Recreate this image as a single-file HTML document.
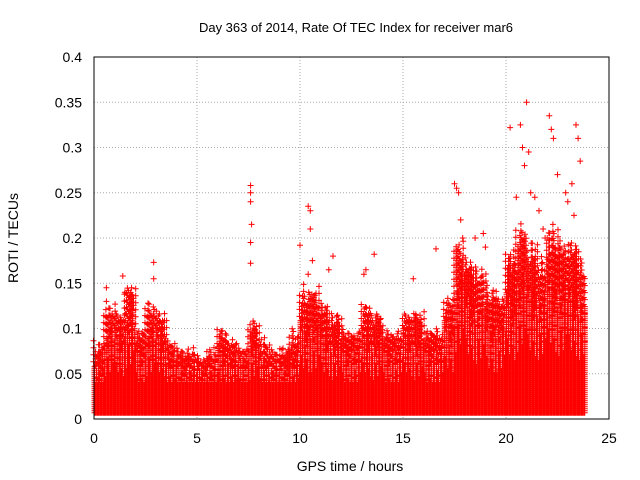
<!DOCTYPE html>
<html><head><meta charset="utf-8"><style>
body{margin:0;background:#fff}
svg{display:block;font-family:"Liberation Sans",sans-serif}
</style></head><body>
<svg id="chart" width="640" height="480" viewBox="0 0 640 480">
<rect width="640" height="480" fill="#fff"/>
<text x="356" y="32" font-size="13" text-anchor="middle" fill="#000">Day 363 of 2014, Rate Of TEC Index for receiver mar6</text>
<text transform="translate(18,238) rotate(-90)" font-size="14" text-anchor="middle">ROTI / TECUs</text>
<text x="350" y="471" font-size="14" text-anchor="middle">GPS time / hours</text>
<g id="grid"></g>
<g id="ticks"></g>
<g id="marks"></g>
<rect x="94" y="57" width="515" height="362" fill="none" stroke="#000" stroke-width="1"/>
</svg>
<script>
const xTicks=[0,5,10,15,20,25];
const yTicks=[0,0.05,0.1,0.15,0.2,0.25,0.3,0.35,0.4];
const yTickLabels=["0","0.05","0.1","0.15","0.2","0.25","0.3","0.35","0.4"];
// per 0.5 h bin (hours 0..24): dense level and sparse upper level
const binStart=[0,0.5,1,1.5,2,2.5,3,3.5,4,4.5,5,5.5,6,6.5,7,7.5,8,8.5,9,9.5,10,10.5,11,11.5,12,12.5,13,13.5,14,14.5,15,15.5,16,16.5,17,17.5,18,18.5,19,19.5,20,20.5,21,21.5,22,22.5,23,23.5];
const binLevel=[0.06,0.1,0.1,0.12,0.08,0.1,0.1,0.07,0.06,0.06,0.06,0.06,0.08,0.07,0.07,0.09,0.07,0.06,0.06,0.07,0.11,0.11,0.1,0.09,0.08,0.08,0.1,0.09,0.08,0.08,0.1,0.09,0.08,0.08,0.11,0.16,0.14,0.13,0.11,0.11,0.14,0.16,0.15,0.14,0.16,0.15,0.15,0.14];
const binUpper=[0.09,0.13,0.12,0.15,0.1,0.13,0.12,0.09,0.08,0.08,0.07,0.08,0.1,0.09,0.08,0.11,0.09,0.08,0.08,0.1,0.15,0.15,0.13,0.12,0.1,0.1,0.13,0.12,0.1,0.1,0.12,0.12,0.1,0.1,0.14,0.2,0.18,0.17,0.15,0.14,0.19,0.22,0.2,0.18,0.22,0.2,0.2,0.18];
// isolated high points [hours, ROTI]
const peakT=[0.6,0.6,1.4,1.5,2.9,2.9,7.6,7.6,7.6,7.65,7.6,7.6,10.0,10.4,10.5,10.5,10.6,10.4,11.4,11.6,13.2,13.1,13.6,15.5,16.6,17.5,17.6,17.7,17.8,17.9,18.5,18.9,19.0,20.2,20.5,20.7,20.8,20.9,21.0,21.1,21.2,21.4,21.6,21.8,21.9,22.0,22.1,22.2,22.3,22.5,22.9,23.0,23.2,23.3,23.4,23.5,23.6];
const peakV=[0.145,0.13,0.158,0.14,0.173,0.155,0.258,0.25,0.24,0.215,0.195,0.172,0.192,0.235,0.23,0.21,0.175,0.16,0.165,0.18,0.165,0.16,0.182,0.155,0.188,0.26,0.255,0.25,0.22,0.2,0.2,0.205,0.19,0.322,0.245,0.325,0.30,0.28,0.35,0.295,0.25,0.245,0.23,0.21,0.2,0.2,0.335,0.32,0.31,0.27,0.25,0.24,0.26,0.225,0.325,0.31,0.285];
const X=h=>94+h*20.6, Y=v=>419-v*905;
const ns="http://www.w3.org/2000/svg";
const grid=document.getElementById('grid'), ticks=document.getElementById('ticks'), marks=document.getElementById('marks');
xTicks.forEach(t=>{
  const l=document.createElementNS(ns,'line');
  
  
  l.setAttribute('x1',X(t));l.setAttribute('x2',X(t));l.setAttribute('y1',57);l.setAttribute('y2',419);
  l.setAttribute('stroke','#aaa');l.setAttribute('stroke-dasharray','1,2');grid.appendChild(l);
  const tx=document.createElementNS(ns,'text');
  
  
  tx.setAttribute('x',X(t));tx.setAttribute('y',443);tx.setAttribute('font-size','14');tx.setAttribute('text-anchor','middle');
  tx.textContent=t;ticks.appendChild(tx);
});
yTicks.forEach((t,i)=>{
  const l=document.createElementNS(ns,'line');
  
  
  l.setAttribute('x1',94);l.setAttribute('x2',609);l.setAttribute('y1',Y(t));l.setAttribute('y2',Y(t));
  l.setAttribute('stroke','#aaa');l.setAttribute('stroke-dasharray','1,2');grid.appendChild(l);
  const tx=document.createElementNS(ns,'text');
  
  
  tx.setAttribute('x',82);tx.setAttribute('y',Y(t)+5);tx.setAttribute('font-size','14');tx.setAttribute('text-anchor','end');
  tx.textContent=yTickLabels[i];ticks.appendChild(tx);
});
let d='';
const cross=(x,y)=>{d+=`M${(x-3).toFixed(1)} ${y.toFixed(1)}h6M${x.toFixed(1)} ${(y-3).toFixed(1)}v6`;};
const shape=[1,0.62,0.85,0.5,0.95,0.7,0.55,0.8,0.45,0.9,0.65,0.75,0.5,0.88];
binStart.forEach((h,i)=>{
  const lvl=binLevel[i], up=binUpper[i];
  for(let c=0;c<10;c++){
    const hx=h+c*0.05+0.025;
    if(hx>23.85) continue;
    const f=shape[(i*7+c)%shape.length];
    const top=Y(Math.max(0.04,lvl*f)), bot=Y(0.007);
    for(let y=bot;y>top;y-=2) cross(X(hx),y);
    const f2=shape[(i*5+c*3)%shape.length];
    const utop=Y(lvl+(up-lvl)*f2);
    for(let y=top-3-(c%3)*2;y>utop;y-=7) cross(X(hx)+((c%2)?1:-1),y);
  }
});
peakT.forEach((t,i)=>cross(X(t),Y(peakV[i])));
const p=document.createElementNS(ns,'path');


p.setAttribute('d',d);p.setAttribute('stroke','#ff0000');p.setAttribute('stroke-width','1');p.setAttribute('fill','none');
marks.appendChild(p);
</script>
</body></html>
